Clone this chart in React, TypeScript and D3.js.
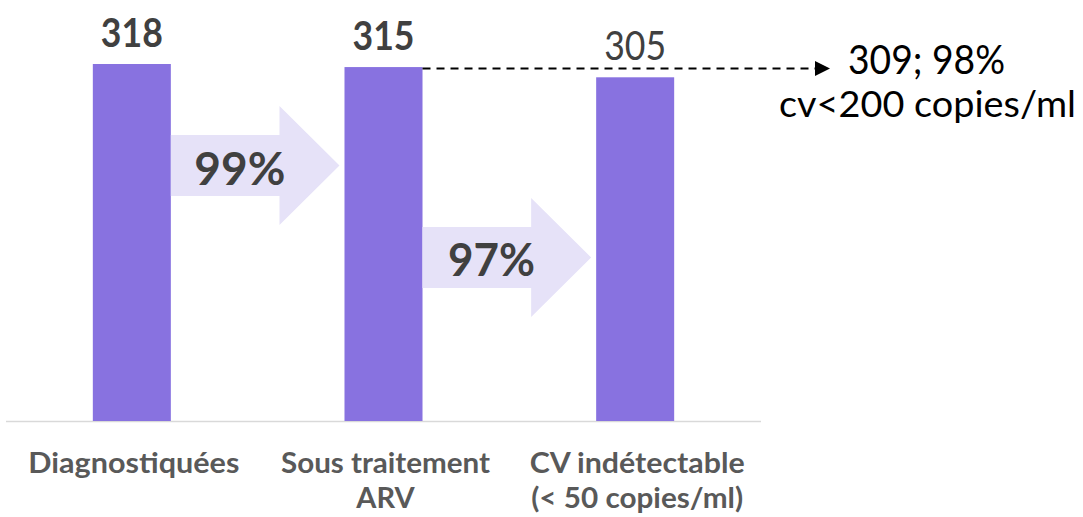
import React from "react";
import * as d3 from "d3";

const categories: string[][] = [["Diagnostiquées"], ["Sous traitement", "ARV"], ["CV indétectable", "(< 50 copies/ml)"]];
const values: number[] = [318, 315, 305];
const rates: string[] = ["99%", "97%"];
const sideNoteLines: string[] = ["309; 98%", "cv<200 copies/ml"];

const W = 1083;
const H = 517;
const BAR = "#8872E0";
const ARROW = "#E6E2F8";
const TEXT = "#404040";
const FONT = "Lato, 'Open Sans', sans-serif";
const valueWeights = [700, 700, 400];
const labelWidths: (number | undefined)[][] = [[211], [209, undefined], [215, 212]];
const rateWidths = [91, 87];

export default function App() {
  const x = d3
    .scaleBand<number>()
    .domain(d3.range(values.length))
    .range([6, 761])
    .paddingInner(0.69)
    .paddingOuter(0.345);
  const y = d3.scaleLinear().domain([-31, 318]).range([421, 64]);
  const bw = x.bandwidth();

  const arrowPath = (i: number) => {
    const x0 = (x(i) as number) + bw;
    const x1 = x(i + 1) as number;
    const tipX = x1 - 5;
    const cy = i === 0 ? 165.5 : 257.5;
    const bodyHalf = 30.5;
    const headHalf = 59.5;
    const headStart = tipX - 60;
    return (
      d3.line()([
        [x0, cy - bodyHalf],
        [headStart, cy - bodyHalf],
        [headStart, cy - headHalf],
        [tipX, cy],
        [headStart, cy + headHalf],
        [headStart, cy + bodyHalf],
        [x0, cy + bodyHalf],
      ]) + "Z"
    );
  };

  const dashY = y(values[1]) + 1.5;
  const dashX0 = (x(1) as number) + bw;
  const dashX1 = 815;

  return (
    <svg width={W} height={H} style={{ position: "absolute", left: 0, top: 0, background: "#fff" }}>
      <line x1={6} x2={761} y1={421.5} y2={421.5} stroke="#D9D9D9" strokeWidth={1.5} />
      {values.map((v, i) => (
        <rect key={"b" + i} x={x(i)} y={y(v)} width={bw} height={y(-31) - y(v)} fill={BAR} />
      ))}
      {rates.map((r, i) => (
        <g key={"a" + i}>
          <path d={arrowPath(i)} fill={ARROW} />
          <text
            x={(x(i) as number) + bw + 69}
            y={i === 0 ? 185 : 276}
            textAnchor="middle"
            fontFamily={FONT}
            fontWeight={700}
            fontSize={46}
            fill={TEXT}
            textLength={rateWidths[i]}
            lengthAdjust="spacingAndGlyphs"
          >
            {r}
          </text>
        </g>
      ))}
      {values.map((v, i) => (
        <text
          key={"v" + i}
          x={(x(i) as number) + bw / 2}
          y={y(v) - 17}
          textAnchor="middle"
          fontFamily={FONT}
          fontWeight={valueWeights[i]}
          fontSize={40}
          fill={TEXT}
          textLength={62}
          lengthAdjust="spacingAndGlyphs"
        >
          {v}
        </text>
      ))}
      <line x1={dashX0} x2={dashX1} y1={dashY} y2={dashY} stroke="#000" strokeWidth={2} strokeDasharray="8,6" />
      <path d={`M${dashX1},${dashY - 7.5}L${dashX1 + 15},${dashY}L${dashX1},${dashY + 7.5}Z`} fill="#000" />
      <text x={926.5} y={74} textAnchor="middle" fontFamily={FONT} fontSize={40} fill="#000" textLength={157} lengthAdjust="spacingAndGlyphs">
        {sideNoteLines[0]}
      </text>
      <text x={927.5} y={117} textAnchor="middle" fontFamily={FONT} fontSize={37} fill="#000" textLength={297} lengthAdjust="spacingAndGlyphs">
        {sideNoteLines[1]}
      </text>
      {categories.map((lines, i) =>
        lines.map((l, j) => (
          <text
            key={"c" + i + j}
            x={(x(i) as number) + bw / 2 + 2}
            y={473 + j * 35}
            textAnchor="middle"
            fontFamily={FONT}
            fontWeight={700}
            fontSize={29}
            fill="#595959"
            textLength={labelWidths[i][j]}
            lengthAdjust={labelWidths[i][j] ? "spacingAndGlyphs" : undefined}
          >
            {l}
          </text>
        ))
      )}
    </svg>
  );
}
